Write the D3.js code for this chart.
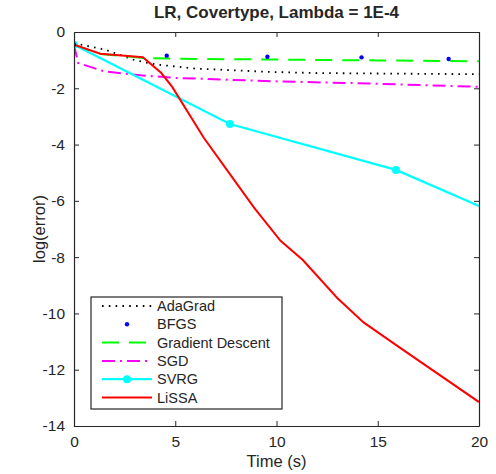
<!DOCTYPE html>
<html>
<head>
<meta charset="utf-8">
<script src="https://cdn.jsdelivr.net/npm/d3@7"></script>
<style>
  body { margin: 0; background: #fff; }
  text { font-family: "Liberation Sans", Arial, Helvetica, sans-serif; fill: #262626; }
</style>
</head>
<body>
<div id="chart-area"></div>
<script>
// series: [time (s), log(error)]
var adagrad = [[0,-0.4],[1.5,-0.62],[3,-1.0],[4,-1.15],[6,-1.3],[9.7,-1.42],[12.1,-1.46],[20,-1.5]];
var bfgs = [[0,-0.45],[4.58,-0.84],[9.55,-0.88],[14.2,-0.9],[18.5,-0.96]];
var gradDescent = [[0,-0.45],[1.3,-0.78],[3.4,-0.92],[5,-0.95],[10,-0.98],[15,-1.01],[20,-1.04]];
var sgd = [[0,-0.45],[0.2,-1.1],[1.5,-1.4],[3.3,-1.54],[5,-1.63],[9.7,-1.75],[14.6,-1.83],[20,-1.95]];
var svrg = [[0,-0.45],[7.7,-3.27],[15.9,-4.9],[20,-6.18]];
var svrgMarkers = [[0,-0.45],[7.7,-3.27],[15.9,-4.9]];
var lissa = [[0,-0.45],[1.3,-0.77],[3.4,-0.9],[4.3,-1.45],[4.85,-1.95],[6.4,-3.75],[7.7,-5.05],[8.9,-6.25],
             [10.2,-7.42],[11.3,-8.1],[13.0,-9.45],[14.3,-10.32],[16.0,-11.17],[20,-13.15]];

var xTicks = [0, 5, 10, 15, 20];
var yTicks = [0, -2, -4, -6, -8, -10, -12, -14];
var legendNames = ["AdaGrad", "BFGS", "Gradient Descent", "SGD", "SVRG", "LiSSA"];

var margin = {left: 74, right: 17, top: 32, bottom: 48};
var width = 496 - margin.left - margin.right;
var height = 474 - margin.top - margin.bottom;

var svg = d3.select("#chart-area").append("svg")
    .attr("width", 496)
    .attr("height", 474);

var g = svg.append("g")
    .attr("transform", "translate(" + margin.left + "," + margin.top + ")");

var x = d3.scaleLinear().domain([0, 20]).range([0, width]);
var y = d3.scaleLinear().domain([-14, 0]).range([height, 0]);

var line = d3.line()
    .x(function(d) { return x(d[0]); })
    .y(function(d) { return y(d[1]); });

// clip so the lines stay inside the box
g.append("clipPath").attr("id", "clip")
  .append("rect").attr("width", width).attr("height", height);

var plot = g.append("g").attr("clip-path", "url(#clip)");

var styles = {
  AdaGrad: {color: "#000", dash: "1.6,5.2", w: 1.8},
  "Gradient Descent": {color: "#00ff00", dash: "17,10", w: 2},
  SGD: {color: "#ff00ff", dash: "13,5,2,5", w: 2},
  SVRG: {color: "#00ffff", dash: null, w: 2.2},
  LiSSA: {color: "#ff0000", dash: null, w: 2}
};

function drawLine(data, s) {
  plot.append("path")
    .attr("fill", "none")
    .attr("stroke", s.color)
    .attr("stroke-width", s.w)
    .attr("stroke-dasharray", s.dash)
    .attr("d", line(data));
}

drawLine(adagrad, styles.AdaGrad);
drawLine(gradDescent, styles["Gradient Descent"]);
drawLine(sgd, styles.SGD);
drawLine(svrg, styles.SVRG);
plot.selectAll(".svrgdot").data(svrgMarkers).enter().append("circle")
    .attr("cx", function(d) { return x(d[0]); })
    .attr("cy", function(d) { return y(d[1]); })
    .attr("r", 4)
    .attr("fill", "#00ffff");
drawLine(lissa, styles.LiSSA);
plot.selectAll(".bfgsdot").data(bfgs).enter().append("circle")
    .attr("cx", function(d) { return x(d[0]); })
    .attr("cy", function(d) { return y(d[1]); })
    .attr("r", 2.2)
    .attr("fill", "#0000ff");

// axes, matlab style: ticks inside on all four sides, plain hyphen minus
var axisColor = "#262626";
var fmt = function(d) { return String(d); };
var xb = g.append("g").attr("transform", "translate(0," + height + ")")
    .call(d3.axisBottom(x).tickValues(xTicks).tickSizeInner(-5).tickSizeOuter(0).tickPadding(10).tickFormat(fmt));
var xt = g.append("g")
    .call(d3.axisTop(x).tickValues(xTicks).tickSizeInner(-5).tickSizeOuter(0).tickFormat(""));
var yl = g.append("g")
    .call(d3.axisLeft(y).tickValues(yTicks).tickSizeInner(-5).tickSizeOuter(0).tickPadding(9).tickFormat(fmt));
var yr = g.append("g").attr("transform", "translate(" + width + ",0)")
    .call(d3.axisRight(y).tickValues(yTicks).tickSizeInner(-5).tickSizeOuter(0).tickFormat(""));

[xb, xt, yl, yr].forEach(function(a) {
  a.select(".domain").attr("stroke", axisColor).attr("stroke-width", 1.2);
  a.selectAll(".tick line").attr("stroke", axisColor);
  a.selectAll("text").style("font-size", "15.5px").attr("fill", "#333");
});

svg.append("text")
    .attr("x", margin.left + width / 2)
    .attr("y", 18)
    .attr("text-anchor", "middle")
    .style("font-size", "17px")
    .style("font-weight", "bold")
    .text("LR, Covertype, Lambda = 1E-4");

svg.append("text")
    .attr("x", margin.left + width / 2)
    .attr("y", 467)
    .attr("text-anchor", "middle")
    .style("font-size", "16.5px")
    .attr("fill", "#333")
    .text("Time (s)");

svg.append("text")
    .attr("transform", "translate(45," + (margin.top + height / 2) + ") rotate(-90)")
    .attr("text-anchor", "middle")
    .style("font-size", "16.5px")
    .attr("fill", "#333")
    .text("log(error)");

// legend
var legend = svg.append("g").attr("transform", "translate(91,297)");
legend.append("rect")
    .attr("width", 191).attr("height", 112)
    .attr("fill", "#fff")
    .attr("stroke", axisColor).attr("stroke-width", 1.2);

legendNames.forEach(function(name, i) {
  var ly = 9 + i * 18.3;
  var row = legend.append("g").attr("transform", "translate(0," + ly + ")");
  var s = styles[name];
  if (s) {
    row.append("line")
      .attr("x1", 11).attr("x2", 61)
      .attr("stroke", s.color).attr("stroke-width", s.w)
      .attr("stroke-dasharray", s.dash);
  }
  if (name === "BFGS") {
    row.append("circle").attr("cx", 36).attr("r", 2.2).attr("fill", "#0000ff");
  }
  if (name === "SVRG") {
    row.append("circle").attr("cx", 36).attr("r", 4).attr("fill", "#00ffff");
  }
  row.append("text")
    .attr("x", 66).attr("y", 5)
    .style("font-size", "14.5px")
    .text(name);
});
</script>
</body>
</html>
